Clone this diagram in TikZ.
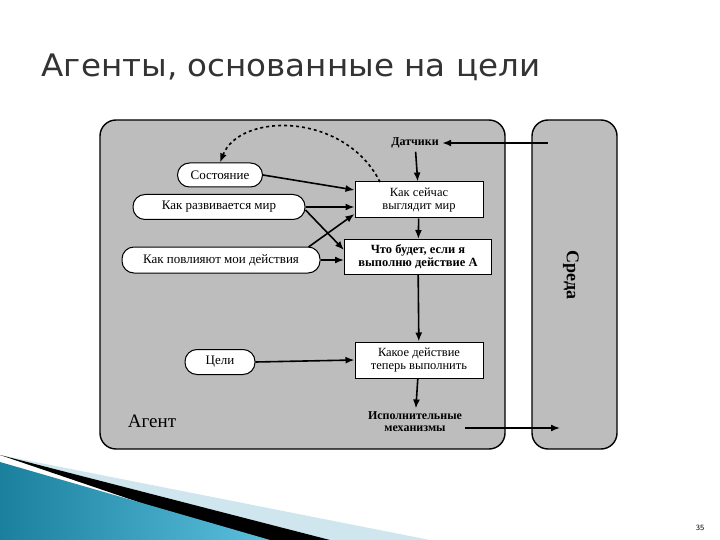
\documentclass[tikz,border=0pt]{standalone}
\usepackage{fontspec}
\setmainfont{Liberation Serif}
\newfontfamily\titlefont{DejaVu Sans}
\usetikzlibrary{shapes.geometric,arrows.meta}
\definecolor{panel}{HTML}{BDBDBD}
\definecolor{tealA}{HTML}{1B7F9E}
\definecolor{tealB}{HTML}{5BC0DE}
\definecolor{paleblue}{HTML}{CFE6EE}
\begin{document}
\begin{tikzpicture}[x=1pt,y=-1pt,
  panelbox/.style={draw=black,line width=1.4pt,fill=panel,rounded corners=16pt},
  rect/.style={draw=black,line width=1pt,fill=white,align=center,font=\fontsize{12.5}{13}\selectfont,inner sep=1pt},
  pill/.style={draw=black,line width=1pt,fill=white,rounded corners=12pt,font=\fontsize{13}{14}\selectfont,inner sep=2pt},
  arr/.style={-{Latex[length=9pt,width=7pt]},line width=1.6pt},
  lbl/.style={font=\fontsize{12}{12}\selectfont\bfseries,align=center}]
\useasboundingbox (0,0) rectangle (720,540);
% bottom decoration
\fill[paleblue] (0,455) -- (330,540) -- (430,540) -- cycle;
\fill[black] (0,455) -- (250,540) -- (330,540) -- cycle;
\shade[left color=tealA,right color=tealB] (0,462) -- (270,540) -- (0,540) -- cycle;
\node[font=\fontsize{8}{9}\selectfont\sffamily] (pg) at (700,528) {35};
% title
\node[anchor=west,font=\titlefont\fontsize{31}{34}\selectfont,text=black!80,xscale=1.05] (title) at (38,67) {Агенты, основанные на цели};
% panels
\draw[panelbox] (100,120) rectangle (505,449);
\draw[panelbox] (532,120) rectangle (617,449);
\node[rotate=-90,font=\fontsize{18}{20}\selectfont\bfseries] (env) at (571,275) {Среда};
\node[font=\fontsize{19}{20}\selectfont] (agent) at (152,421) {Агент};
% nodes
\node[lbl] (sens) at (415,143) {Датчики};
\node[rect,minimum width=128pt,minimum height=36pt] (now) at (419,200) {Как сейчас\\выглядит мир};
\node[rect,minimum width=147pt,minimum height=35pt] (what) at (418,257) {\bfseries Что будет, если я\\\bfseries выполню действие А};
\node[rect,minimum width=128pt,minimum height=36pt] (act) at (419,360) {Какое действие\\теперь выполнить};
\node[lbl,font=\fontsize{12}{12}\selectfont\bfseries] (eff) at (415,422) {Исполнительные\\механизмы};
\node[pill,minimum width=85pt,minimum height=24pt] (state) at (220,175) {Состояние};
\node[pill,minimum width=172pt,minimum height=25pt] (evol) at (219,207) {Как развивается мир};
\node[pill,minimum width=198pt,minimum height=26pt] (acts) at (221,260) {Как повлияют мои действия};
\node[pill,minimum width=70pt,minimum height=25pt] (goals) at (220,362) {Цели};
\coordinate (envin) at (548,143);
\coordinate (envout) at (560,428);
% edges
\draw[arr] (envin) -- (sens.east);
\draw[arr] (sens) -- (now);
\draw[arr] (now) -- (what);
\draw[arr] (what) -- (act);
\draw[arr] (act) -- (eff);
\draw[arr] (eff.east |- envout) -- (envout);
\draw[arr] (state.east) -- (now.west |- 0,190);
\draw[arr] (evol.east) -- (now.west |- 0,207);
\draw[arr] (evol.east) ++(0,3) -- (what.west |- 0,250);
\draw[arr] (acts.east) ++(-12,-13) -- (now.west |- 0,214);
\draw[arr] (acts.east) -- (what.west |- 0,260);
\draw[arr] (goals.east) -- (act.west);
\draw[arr,dashed,line width=1.6pt] (380,182) .. controls (345,112) and (240,112) .. (state.north);
\end{tikzpicture}
\end{document}
